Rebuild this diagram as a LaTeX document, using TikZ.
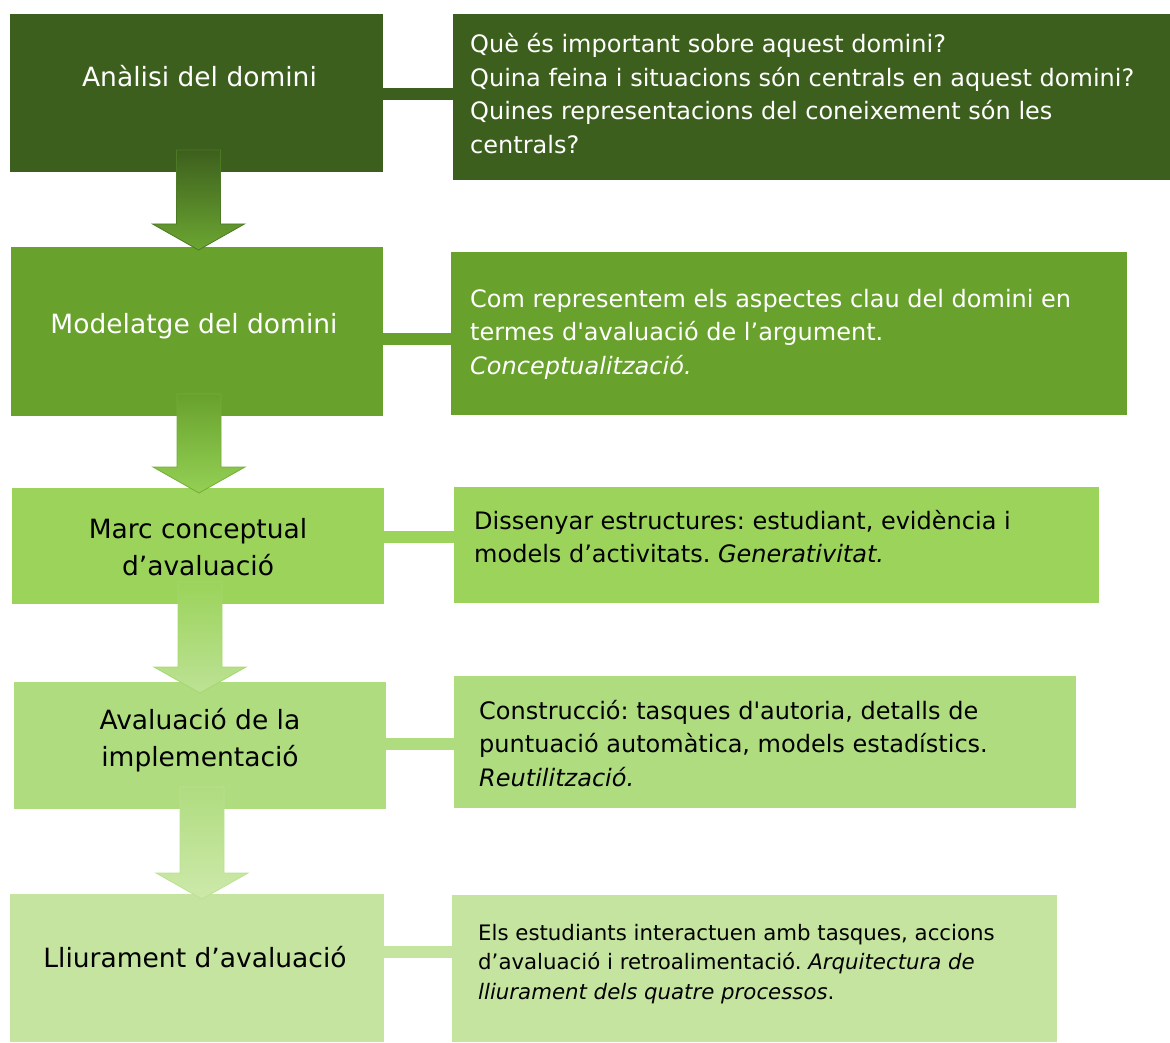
\documentclass[tikz,border=0pt]{standalone}
\usepackage{fontspec}
\setmainfont{DejaVu Sans}[Ligatures=TeXOff]
\usetikzlibrary{calc}
\frenchspacing
\definecolor{cA}{HTML}{3D5F1D}
\definecolor{cB}{HTML}{68A22D}
\definecolor{cC}{HTML}{9BD35B}
\definecolor{cD}{HTML}{B0DC80}
\definecolor{cE}{HTML}{C5E49F}
\definecolor{aAb}{HTML}{6CA632}
\definecolor{aAd}{HTML}{4C7A24}
\definecolor{aBb}{HTML}{95D055}
\definecolor{aBd}{HTML}{72AE38}
\definecolor{aCb}{HTML}{BDE295}
\definecolor{aCd}{HTML}{A6D86C}
\definecolor{aDb}{HTML}{CDE9AA}
\definecolor{aDd}{HTML}{BBE191}
\newcommand\blockarrow[6]{%
  \path let \p1=(#1.south), \p2=(#2.north) in
  [draw=#5, top color=#3, bottom color=#4, line width=0.8pt]
  (\x1-20pt,\y1+22pt) -- (\x1+24pt,\y1+22pt) -- (\x1+24pt,\y2-#6+26pt) --
  (\x1+48pt,\y2-#6+26pt) -- (\x1+2pt,\y2-#6) -- (\x1-44pt,\y2-#6+26pt) --
  (\x1-20pt,\y2-#6+26pt) -- cycle;}
\begin{document}
\frenchspacing
\begin{tikzpicture}[x=1pt,y=-1pt,
  box/.style={draw=none, inner sep=0pt, outer sep=0pt, anchor=north west},
  conn/.style={line width=12pt},
  rtxt/.style={anchor=base west, inner sep=0pt, font=\fontsize{24}{33.5}\selectfont\frenchspacing},
  ltxt/.style={anchor=base, inner sep=0pt, font=\fontsize{26.5}{37}\selectfont}]
\useasboundingbox (0,0) rectangle (1170,1043);
% left boxes
\node[box, fill=cA, minimum width=373pt, minimum height=158pt] (la) at (10,14) {};
\node[box, fill=cB, minimum width=372pt, minimum height=169pt] (lb) at (11,247) {};
\node[box, fill=cC, minimum width=372pt, minimum height=116pt] (lc) at (12,488) {};
\node[box, fill=cD, minimum width=372pt, minimum height=127pt] (ld) at (14,682) {};
\node[box, fill=cE, minimum width=374pt, minimum height=148pt] (le) at (10,894) {};
% right boxes
\node[box, fill=cA, minimum width=717pt, minimum height=166pt] (ra) at (453,14) {};
\node[box, fill=cB, minimum width=676pt, minimum height=163pt] (rb) at (451,252) {};
\node[box, fill=cC, minimum width=645pt, minimum height=116pt] (rc) at (454,487) {};
\node[box, fill=cD, minimum width=622pt, minimum height=132pt] (rd) at (454,676) {};
\node[box, fill=cE, minimum width=605pt, minimum height=147pt] (re) at (452,895) {};
% connectors
\draw[conn, cA] ([yshift=-1pt]la.east) -- ([yshift=-1pt]la.east -| ra.west);
\draw[conn, cB] ([yshift=-7.5pt]lb.east) -- ([yshift=-7.5pt]lb.east -| rb.west);
\draw[conn, cC] ([yshift=9.5pt]lc.east) -- ([yshift=9.5pt]lc.east -| rc.west);
\draw[conn, cD] ([yshift=1.5pt]ld.east) -- ([yshift=1.5pt]ld.east -| rd.west);
\draw[conn, cE] ([yshift=16pt]le.east) -- ([yshift=16pt]le.east -| re.west);
% block arrows
\blockarrow{la}{lb}{cA}{aAb}{aAd}{3pt}
\blockarrow{lb}{lc}{cB}{aBb}{aBd}{5pt}
\blockarrow{lc}{ld}{cC}{aCb}{aCd}{11pt}
\blockarrow{ld}{le}{cD}{aDb}{aDd}{5pt}
% left texts
\node[ltxt, text=white] (tla) at ([xshift=3pt]la.center |- 0,87) {\parbox[t]{370pt}{\centering Anàlisi del domini}};
\node[ltxt, text=white] (tlb) at ([xshift=-3pt]lb.center |- 0,333) {\parbox[t]{370pt}{\centering Modelatge del domini}};
\node[ltxt, text=black] (tlc) at (lc.center |- 0,538) {\parbox[t]{370pt}{\centering Marc conceptual\\d’avaluació}};
\node[ltxt, text=black] (tld) at (ld.center |- 0,729) {\parbox[t]{370pt}{\centering Avaluació de la\\implementació}};
\node[ltxt, text=black] (tle) at ([xshift=-2pt]le.center |- 0,967) {\parbox[t]{372pt}{\centering Lliurament d’avaluació}};
% right texts
\node[rtxt, text=white] (tra) at (470,53) {\parbox[t]{715pt}{Què és important sobre aquest domini?\\Quina feina i situacions són centrals en aquest domini?\\Quines representacions del coneixement són les\\centrals?}};
\node[rtxt, text=white] (trb) at (470,307) {\parbox[t]{660pt}{Com representem els aspectes clau del domini en\\termes d'avaluació de l’argument.\\\textit{Conceptualització.}}};
\node[rtxt, text=black] (trc) at (474,529) {\parbox[t]{630pt}{Dissenyar estructures: estudiant, evidència i\\models d’activitats. \textit{Generativitat.}}};
\node[rtxt, text=black] (trd) at (479,719) {\parbox[t]{600pt}{Construcció: tasques d'autoria, detalls de\\puntuació automàtica, models estadístics.\\\textit{Reutilització.}}};
\node[rtxt, text=black, font=\fontsize{21.3}{29.5}\selectfont\frenchspacing] (tre) at (478,940) {\parbox[t]{580pt}{Els estudiants interactuen amb tasques, accions\\d’avaluació i retroalimentació. \textit{Arquitectura de\\lliurament dels quatre processos}.}};
\end{tikzpicture}
\end{document}
